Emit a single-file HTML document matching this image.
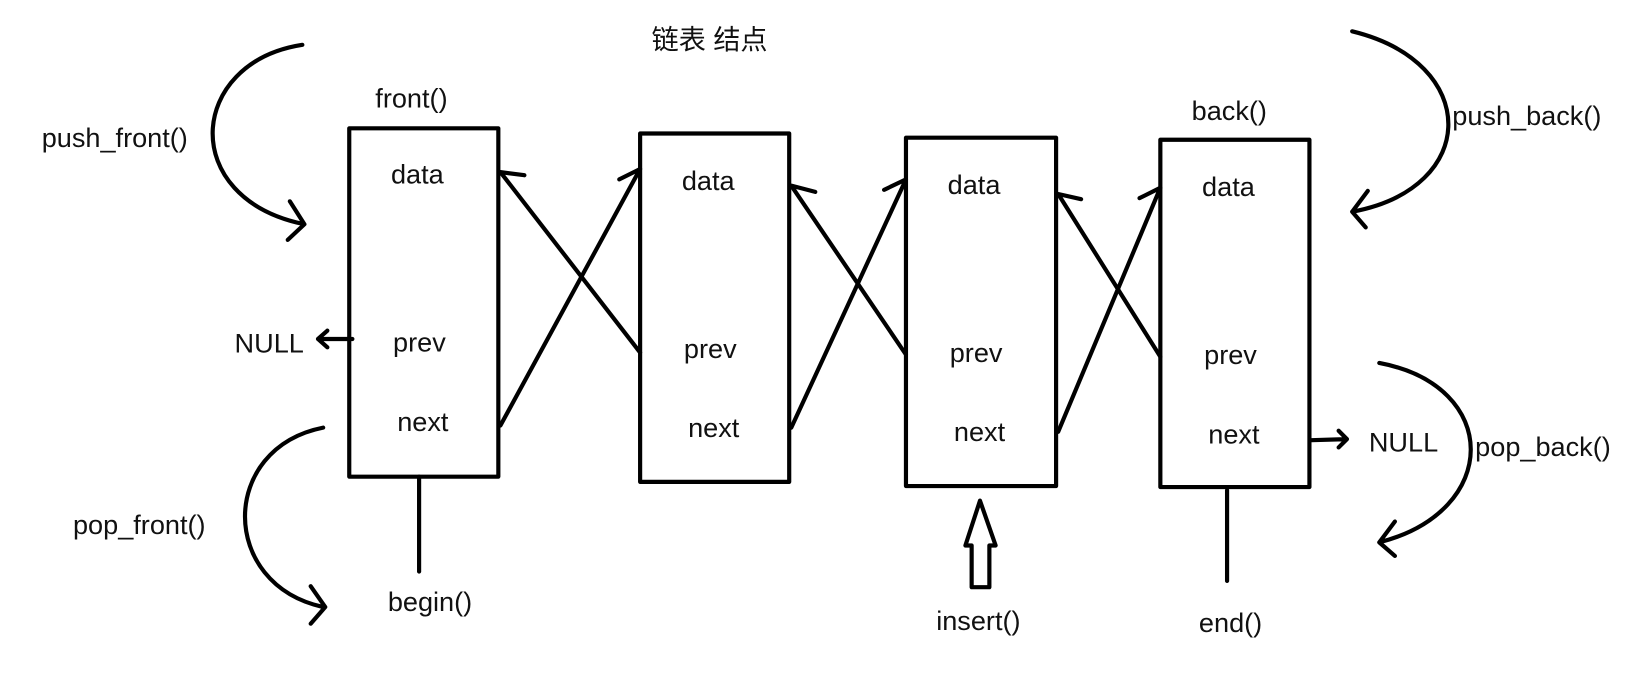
<!DOCTYPE html>
<html><head><meta charset="utf-8"><style>
html,body{margin:0;padding:0;background:#fff;width:1642px;height:679px;overflow:hidden}
svg{display:block}
text{font-family:"Liberation Sans","Noto Sans CJK SC",sans-serif;font-size:26px;fill:#111}
</style></head><body>
<svg width="1642" height="679" viewBox="0 0 1575 651" preserveAspectRatio="none">
<g fill="none" stroke="#000" stroke-width="4" stroke-linecap="round" stroke-linejoin="round">
<rect x="335" y="123" width="143" height="334"/>
<rect x="614" y="128" width="143" height="334"/>
<rect x="869" y="132" width="144" height="334"/>
<rect x="1113" y="134" width="143" height="333"/>
<path d="M614 338 L480 165 M480 165 L503 168"/>
<path d="M480 408 L614 162 M614 162 L594 172"/>
<path d="M869 340 L759 178 M759 178 L782 184"/>
<path d="M759 410 L869 172 M869 172 L848 182"/>
<path d="M1113 342 L1015 186 M1015 186 L1037 191"/>
<path d="M1015 414 L1113 180 M1113 180 L1093 190"/>
<path d="M338 325 L305 325 M314 317 L305 325 L314 333"/>
<path d="M1258 422 L1292 421 M1284 413 L1292 421 L1284 429"/>
<path d="M402 457 L402 548"/>
<path d="M1177 470 L1177 557"/>
<path d="M290 43 C180 60 170 190 292 215 M278 193 L292 215 L276 230"/>
<path d="M310 410 C210 430 210 560 310 582 M298 562 L312 582 L298 598"/>
<path d="M1297 30 C1420 60 1420 180 1297 203 M1312 183 L1297 203 L1310 218"/>
<path d="M1323 348 C1440 370 1440 490 1323 520 M1338 500 L1323 520 L1338 533"/>
<path d="M940 480 L955 523 L949 523 L949 563 L932 563 L932 523 L926 523 Z"/>
</g>
<text x="625" y="47">链表 结点</text>
<text x="360" y="103">front()</text>
<text x="1143" y="115">back()</text>
<text x="40" y="141">push_front()</text>
<text x="70" y="512">pop_front()</text>
<text x="1393" y="120">push_back()</text>
<text x="1415" y="437">pop_back()</text>
<text x="225" y="338">NULL</text>
<text x="1313" y="433">NULL</text>
<text x="372" y="586">begin()</text>
<text x="898" y="604">insert()</text>
<text x="1150" y="606">end()</text>
<text x="375" y="176">data</text><text x="377" y="337">prev</text><text x="381" y="413">next</text>
<text x="654" y="182">data</text><text x="656" y="343">prev</text><text x="660" y="419">next</text>
<text x="909" y="186">data</text><text x="911" y="347">prev</text><text x="915" y="423">next</text>
<text x="1153" y="188">data</text><text x="1155" y="349">prev</text><text x="1159" y="425">next</text>
</svg>
</body></html>
